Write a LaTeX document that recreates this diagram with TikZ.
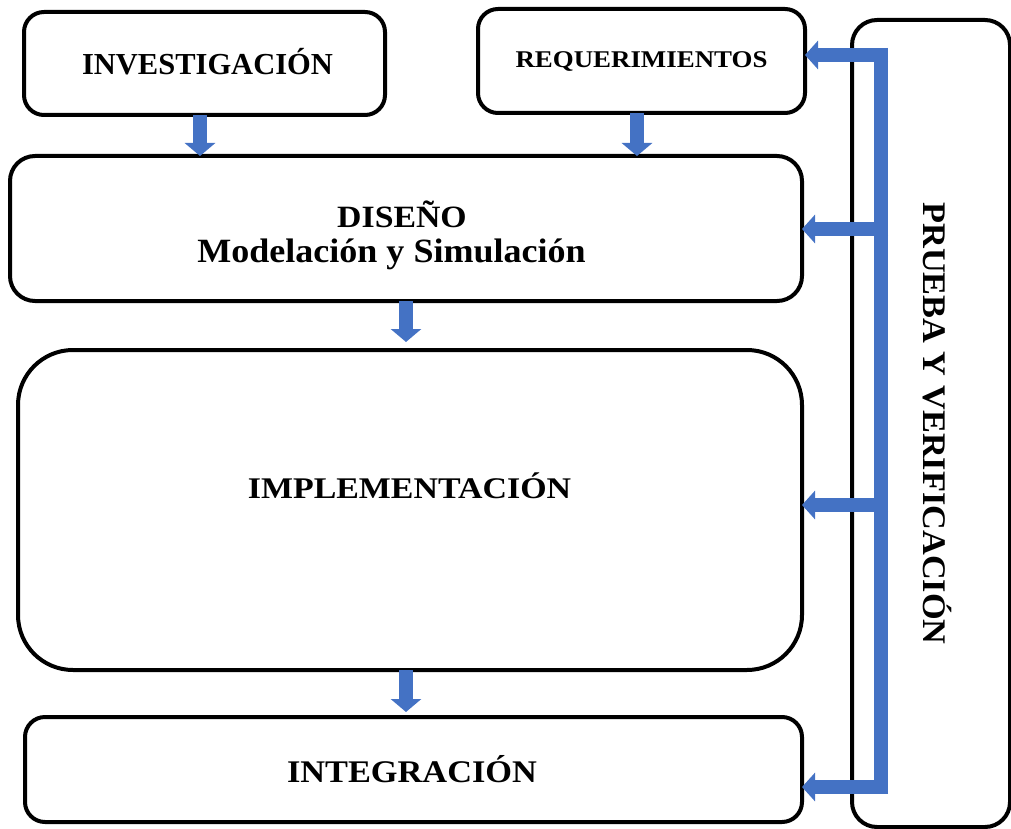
\documentclass[tikz,border=0pt]{standalone}
\usepackage{fontspec}
\setmainfont{Liberation Serif}
\usepackage{graphicx}
\usetikzlibrary{arrows.meta}
\definecolor{arrblue}{HTML}{4472C4}
\newcommand\hstr[2]{\scalebox{#1}[1]{#2}}
\begin{document}
\begin{tikzpicture}[x=1pt,y=-1pt,
  box/.style={draw=black,line width=4pt,fill=white,inner sep=0pt,outer sep=0pt},
  lbl/.style={anchor=base,inner sep=0pt,font=\bfseries},
  downarr/.style={draw=arrblue,line width=14pt,-{Triangle[width=30pt,length=13pt]}},
  branch/.style={draw=arrblue,line width=14pt,-{Triangle[width=28pt,length=13pt]}},
  bus/.style={draw=arrblue,line width=14pt,line cap=butt}]
\useasboundingbox (0,0) rectangle (1011,829);
% boxes
\node[box,rounded corners=20pt,minimum width=361pt,minimum height=103pt] (inv) at (204.5,63.5) {};
\node[box,rounded corners=20pt,minimum width=327pt,minimum height=104pt] (req) at (641.5,61) {};
\node[box,rounded corners=25pt,minimum width=792pt,minimum height=145pt] (dis) at (406,228.5) {};
\node[box,rounded corners=55pt,minimum width=784pt,minimum height=320pt] (impl) at (410,510) {};
\node[box,rounded corners=20pt,minimum width=777pt,minimum height=105pt] (integ) at (413.5,769.5) {};
\node[box,rounded corners=25pt,minimum width=158pt,minimum height=807pt] (test) at (931,423.5) {};
% texts
\node[lbl] (invT) at (207.5,75) {\fontsize{30.5}{36}\selectfont\hstr{1.0}{INVESTIGACIÓN}};
\node[lbl] (reqT) at (641.5,68) {\fontsize{24}{28}\selectfont\hstr{1.12}{REQUERIMIENTOS}};
\node[lbl] (disT) at (402,227) {\fontsize{31}{36}\selectfont\hstr{1.09}{DISEÑO}};
\node[lbl] (disT2) at (391.5,262) {\fontsize{34}{40}\selectfont\hstr{1.06}{Modelación y Simulación}};
\node[lbl] (implT) at (409.5,498) {\fontsize{30}{36}\selectfont\hstr{1.13}{IMPLEMENTACIÓN}};
\node[lbl] (integT) at (412,782) {\fontsize{31.5}{36}\selectfont\hstr{1.09}{INTEGRACIÓN}};
\node[lbl,rotate=-90] (testT) at (923,423.5) {\fontsize{33}{38}\selectfont\hstr{1.04}{PRUEBA Y VERIFICACIÓN}};
% down arrows
\draw[downarr] ([xshift=-4.5pt]inv.south) -- ([xshift=-4.5pt]inv.south |- dis.north);
\draw[downarr] ([xshift=-4.5pt]req.south) -- ([xshift=-4.5pt]req.south |- dis.north);
\draw[downarr,shorten >=8pt] (dis.south) -- (dis.south |- impl.north);
\draw[downarr,shorten >=5pt] (dis.south |- impl.south) -- (dis.south |- integ.north);
% feedback bus
\coordinate (busT) at (881,48);
\coordinate (busB) at (881,794);
\coordinate (b1) at (888,55);
\coordinate (b2) at (888,229);
\coordinate (b3) at (888,505);
\coordinate (b4) at (888,787);
\draw[bus] (busT) -- (busB);
\draw[branch] (b1) -- (req.east |- b1);
\draw[branch] (b2) -- (dis.east |- b2);
\draw[branch] (b3) -- (impl.east |- b3);
\draw[branch] (b4) -- (integ.east |- b4);
\end{tikzpicture}
\end{document}
